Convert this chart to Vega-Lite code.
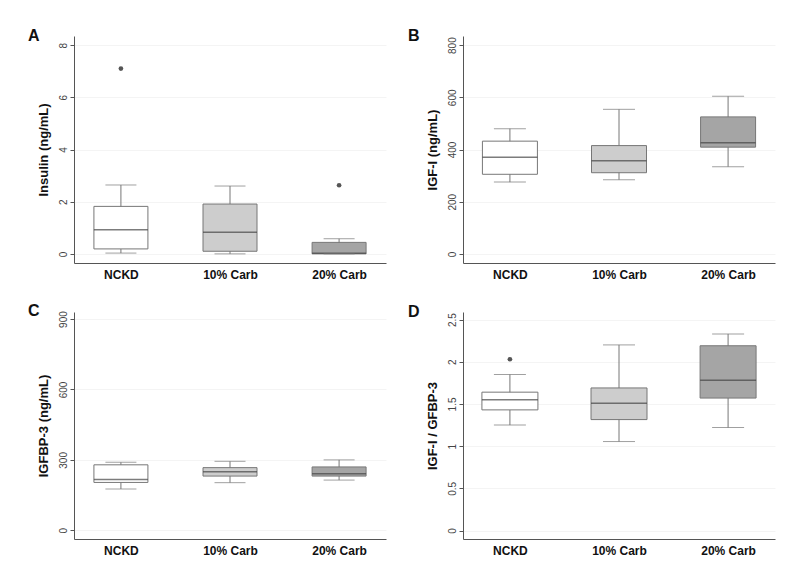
{
  "$schema": "https://vega.github.io/schema/vega-lite/v6.json",
  "background": "white",
  "padding": {"top": 28, "left": 28, "right": 30, "bottom": 20},
  "datasets": {
    "boxes": [
      {"panel": "A", "group": "NCKD", "lower": 0.03, "q1": 0.19, "median": 0.92, "q3": 1.82, "upper": 2.64},
      {"panel": "A", "group": "10% Carb", "lower": 0.0, "q1": 0.1, "median": 0.83, "q3": 1.91, "upper": 2.6},
      {"panel": "A", "group": "20% Carb", "lower": 0.0, "q1": 0.0, "median": 0.02, "q3": 0.44, "upper": 0.58},
      {"panel": "B", "group": "NCKD", "lower": 275, "q1": 305, "median": 370, "q3": 432, "upper": 480},
      {"panel": "B", "group": "10% Carb", "lower": 284, "q1": 311, "median": 357, "q3": 415, "upper": 554},
      {"panel": "B", "group": "20% Carb", "lower": 334, "q1": 409, "median": 426, "q3": 525, "upper": 604},
      {"panel": "C", "group": "NCKD", "lower": 176, "q1": 204, "median": 216, "q3": 279, "upper": 290},
      {"panel": "C", "group": "10% Carb", "lower": 203, "q1": 231, "median": 249, "q3": 267, "upper": 294},
      {"panel": "C", "group": "20% Carb", "lower": 214, "q1": 231, "median": 241, "q3": 270, "upper": 300},
      {"panel": "D", "group": "NCKD", "lower": 1.25, "q1": 1.43, "median": 1.55, "q3": 1.64, "upper": 1.85},
      {"panel": "D", "group": "10% Carb", "lower": 1.055, "q1": 1.315, "median": 1.51, "q3": 1.69, "upper": 2.2},
      {"panel": "D", "group": "20% Carb", "lower": 1.22, "q1": 1.57, "median": 1.78, "q3": 2.19, "upper": 2.33}
    ],
    "outliers": [
      {"panel": "A", "group": "NCKD", "value": 7.1},
      {"panel": "A", "group": "20% Carb", "value": 2.63},
      {"panel": "D", "group": "NCKD", "value": 2.03}
    ]
  },
  "columns": 2,
  "spacing": {"row": 22, "column": 22},
  "concat": [
    {
      "width": 312, "height": 227,
      "title": {"text": "A"},
      "encoding": {
        "x": {"field": "group", "type": "nominal", "sort": ["NCKD", "10% Carb", "20% Carb"], "scale": {"type": "point", "padding": 0.43}, "axis": {"title": null}}
      },
      "layer": [
        {"data": {"name": "boxes"}, "transform": [{"filter": "datum.panel === 'A'"}], "mark": {"type": "rule", "color": "#777777", "strokeWidth": 1},
         "encoding": {"y": {"field": "lower", "type": "quantitative", "scale": {"domain": [-0.35, 8.35], "nice": false, "zero": false}, "axis": {"title": "Insulin (ng/mL)", "values": [0, 2, 4, 6, 8]}}, "y2": {"field": "upper"}}},
        {"data": {"name": "boxes"}, "transform": [{"filter": "datum.panel === 'A'"}], "mark": {"type": "bar", "size": 54, "stroke": "#777777", "strokeWidth": 1},
         "encoding": {"y": {"field": "q1", "type": "quantitative"}, "y2": {"field": "q3"}, "fill": {"field": "group", "type": "nominal", "scale": {"domain": ["NCKD", "10% Carb", "20% Carb"], "range": ["#ffffff", "#cdcdcd", "#a5a5a5"]}, "legend": null}}},
        {"data": {"name": "boxes"}, "transform": [{"filter": "datum.panel === 'A'"}], "mark": {"type": "tick", "size": 54, "thickness": 1.5, "color": "#444444"},
         "encoding": {"y": {"field": "median", "type": "quantitative"}}},
        {"data": {"name": "boxes"}, "transform": [{"filter": "datum.panel === 'A'"}], "mark": {"type": "tick", "size": 31, "thickness": 1, "color": "#777777"},
         "encoding": {"y": {"field": "lower", "type": "quantitative"}}},
        {"data": {"name": "boxes"}, "transform": [{"filter": "datum.panel === 'A'"}], "mark": {"type": "tick", "size": 31, "thickness": 1, "color": "#777777"},
         "encoding": {"y": {"field": "upper", "type": "quantitative"}}},
        {"data": {"name": "outliers"}, "transform": [{"filter": "datum.panel === 'A'"}], "mark": {"type": "point", "filled": true, "color": "#555555", "size": 22, "opacity": 1},
         "encoding": {"y": {"field": "value", "type": "quantitative"}}}
      ]
    },
    {
      "width": 312, "height": 227,
      "title": {"text": "B", "dx": -18},
      "encoding": {
        "x": {"field": "group", "type": "nominal", "sort": ["NCKD", "10% Carb", "20% Carb"], "scale": {"type": "point", "padding": 0.43}, "axis": {"title": null}}
      },
      "layer": [
        {"data": {"name": "boxes"}, "transform": [{"filter": "datum.panel === 'B'"}], "mark": {"type": "rule", "color": "#777777", "strokeWidth": 1},
         "encoding": {"y": {"field": "lower", "type": "quantitative", "scale": {"domain": [-35, 835], "nice": false, "zero": false}, "axis": {"title": "IGF-I  (ng/mL)", "values": [0, 200, 400, 600, 800]}}, "y2": {"field": "upper"}}},
        {"data": {"name": "boxes"}, "transform": [{"filter": "datum.panel === 'B'"}], "mark": {"type": "bar", "size": 55, "stroke": "#777777", "strokeWidth": 1},
         "encoding": {"y": {"field": "q1", "type": "quantitative"}, "y2": {"field": "q3"}, "fill": {"field": "group", "type": "nominal", "scale": {"domain": ["NCKD", "10% Carb", "20% Carb"], "range": ["#ffffff", "#cdcdcd", "#a5a5a5"]}, "legend": null}}},
        {"data": {"name": "boxes"}, "transform": [{"filter": "datum.panel === 'B'"}], "mark": {"type": "tick", "size": 55, "thickness": 1.5, "color": "#444444"},
         "encoding": {"y": {"field": "median", "type": "quantitative"}}},
        {"data": {"name": "boxes"}, "transform": [{"filter": "datum.panel === 'B'"}], "mark": {"type": "tick", "size": 32, "thickness": 1, "color": "#777777"},
         "encoding": {"y": {"field": "lower", "type": "quantitative"}}},
        {"data": {"name": "boxes"}, "transform": [{"filter": "datum.panel === 'B'"}], "mark": {"type": "tick", "size": 32, "thickness": 1, "color": "#777777"},
         "encoding": {"y": {"field": "upper", "type": "quantitative"}}}
      ]
    },
    {
      "width": 312, "height": 227,
      "title": {"text": "C"},
      "encoding": {
        "x": {"field": "group", "type": "nominal", "sort": ["NCKD", "10% Carb", "20% Carb"], "scale": {"type": "point", "padding": 0.43}, "axis": {"title": null}}
      },
      "layer": [
        {"data": {"name": "boxes"}, "transform": [{"filter": "datum.panel === 'C'"}], "mark": {"type": "rule", "color": "#777777", "strokeWidth": 1},
         "encoding": {"y": {"field": "lower", "type": "quantitative", "scale": {"domain": [-37, 930], "nice": false, "zero": false}, "axis": {"title": "IGFBP-3 (ng/mL)", "values": [0, 300, 600, 900]}}, "y2": {"field": "upper"}}},
        {"data": {"name": "boxes"}, "transform": [{"filter": "datum.panel === 'C'"}], "mark": {"type": "bar", "size": 54, "stroke": "#777777", "strokeWidth": 1},
         "encoding": {"y": {"field": "q1", "type": "quantitative"}, "y2": {"field": "q3"}, "fill": {"field": "group", "type": "nominal", "scale": {"domain": ["NCKD", "10% Carb", "20% Carb"], "range": ["#ffffff", "#cdcdcd", "#a5a5a5"]}, "legend": null}}},
        {"data": {"name": "boxes"}, "transform": [{"filter": "datum.panel === 'C'"}], "mark": {"type": "tick", "size": 54, "thickness": 1.5, "color": "#444444"},
         "encoding": {"y": {"field": "median", "type": "quantitative"}}},
        {"data": {"name": "boxes"}, "transform": [{"filter": "datum.panel === 'C'"}], "mark": {"type": "tick", "size": 31, "thickness": 1, "color": "#777777"},
         "encoding": {"y": {"field": "lower", "type": "quantitative"}}},
        {"data": {"name": "boxes"}, "transform": [{"filter": "datum.panel === 'C'"}], "mark": {"type": "tick", "size": 31, "thickness": 1, "color": "#777777"},
         "encoding": {"y": {"field": "upper", "type": "quantitative"}}}
      ]
    },
    {
      "width": 312, "height": 227,
      "title": {"text": "D", "dx": -18},
      "encoding": {
        "x": {"field": "group", "type": "nominal", "sort": ["NCKD", "10% Carb", "20% Carb"], "scale": {"type": "point", "padding": 0.43}, "axis": {"title": null}}
      },
      "layer": [
        {"data": {"name": "boxes"}, "transform": [{"filter": "datum.panel === 'D'"}], "mark": {"type": "rule", "color": "#777777", "strokeWidth": 1},
         "encoding": {"y": {"field": "lower", "type": "quantitative", "scale": {"domain": [-0.1, 2.59], "nice": false, "zero": false}, "axis": {"title": "IGF-I / GFBP-3", "values": [0, 0.5, 1, 1.5, 2, 2.5]}}, "y2": {"field": "upper"}}},
        {"data": {"name": "boxes"}, "transform": [{"filter": "datum.panel === 'D'"}], "mark": {"type": "bar", "size": 56, "stroke": "#777777", "strokeWidth": 1},
         "encoding": {"y": {"field": "q1", "type": "quantitative"}, "y2": {"field": "q3"}, "fill": {"field": "group", "type": "nominal", "scale": {"domain": ["NCKD", "10% Carb", "20% Carb"], "range": ["#ffffff", "#cdcdcd", "#a5a5a5"]}, "legend": null}}},
        {"data": {"name": "boxes"}, "transform": [{"filter": "datum.panel === 'D'"}], "mark": {"type": "tick", "size": 56, "thickness": 1.5, "color": "#444444"},
         "encoding": {"y": {"field": "median", "type": "quantitative"}}},
        {"data": {"name": "boxes"}, "transform": [{"filter": "datum.panel === 'D'"}], "mark": {"type": "tick", "size": 32, "thickness": 1, "color": "#777777"},
         "encoding": {"y": {"field": "lower", "type": "quantitative"}}},
        {"data": {"name": "boxes"}, "transform": [{"filter": "datum.panel === 'D'"}], "mark": {"type": "tick", "size": 32, "thickness": 1, "color": "#777777"},
         "encoding": {"y": {"field": "upper", "type": "quantitative"}}},
        {"data": {"name": "outliers"}, "transform": [{"filter": "datum.panel === 'D'"}], "mark": {"type": "point", "filled": true, "color": "#555555", "size": 22, "opacity": 1},
         "encoding": {"y": {"field": "value", "type": "quantitative"}}}
      ]
    }
  ],
  "config": {
    "font": "Liberation Sans",
    "view": {"stroke": null},
    "title": {"anchor": "start", "frame": "bounds", "fontSize": 16, "fontWeight": "bold", "color": "#111111", "offset": -8, "dx": -9},
    "axisY": {"format": ".2~f", "labelAngle": -90, "grid": true, "gridColor": "#f4f4f4", "domainColor": "#555555", "tickColor": "#555555", "tickSize": 4, "labelColor": "#444444", "labelFontSize": 10, "labelPadding": 2, "titleFontSize": 13, "titleFontWeight": "bold", "titleColor": "#111111", "titlePadding": 8},
    "axisX": {"ticks": false, "tickSize": 0, "grid": false, "domainColor": "#555555", "labelAngle": 0, "labelFontSize": 12, "labelFontWeight": "bold", "labelColor": "#111111", "labelPadding": 6}
  }
}
